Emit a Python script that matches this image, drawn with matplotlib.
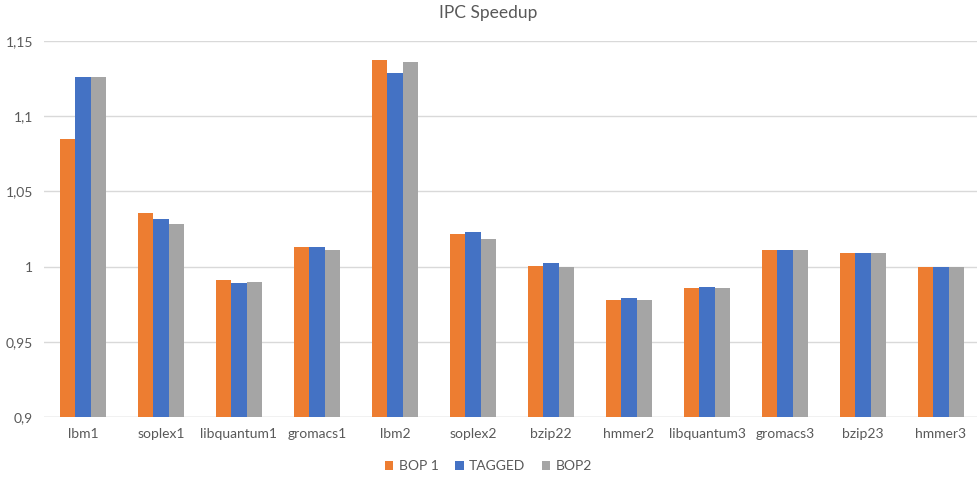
import matplotlib
matplotlib.use("Agg")
import matplotlib.pyplot as plt
import numpy as np
from matplotlib.ticker import FixedLocator

plt.rcParams['font.family'] = ['Lato', 'DejaVu Sans']

categories = ["lbm1", "soplex1", "libquantum1", "gromacs1", "lbm2", "soplex2",
              "bzip22", "hmmer2", "libquantum3", "gromacs3", "bzip23", "hmmer3"]
bop1 = [1.0847, 1.0356, 0.9911, 1.0132, 1.1369, 1.0219, 1.0004, 0.9780, 0.9856, 1.0110, 1.0090, 0.9996]
tagged = [1.1260, 1.0314, 0.9889, 1.0132, 1.1283, 1.0230, 1.0026, 0.9792, 0.9867, 1.0110, 1.0090, 0.9996]
bop2 = [1.1260, 1.0283, 0.9898, 1.0110, 1.1358, 1.0186, 0.9998, 0.9780, 0.9856, 1.0110, 1.0090, 0.9996]
series_names = ["BOP 1", "TAGGED", "BOP2"]
colors = ["#ED7D31", "#4472C4", "#A5A5A5"]
yticks = [0.9, 0.95, 1.0, 1.05, 1.1, 1.15]
ytick_labels = ["0,9", "0,95", "1", "1,05", "1,1", "1,15"]

fig = plt.figure(figsize=(9.77, 4.8), dpi=100)
ax = fig.add_axes([44/977, 62.7/480, 936/977, (417.3-40.7)/480])

x = np.arange(len(categories))
w = 0.197
for i, (vals, name, c) in enumerate(zip([bop1, tagged, bop2], series_names, colors)):
    ax.bar(x + (i-1)*w, vals, width=w, color=c, label=name, zorder=3,
           edgecolor='none')

ax.set_xlim(-0.5, len(categories)-0.5)
ax.set_ylim(0.9, 1.15)
ax.yaxis.set_major_locator(FixedLocator(yticks))
ax.set_yticklabels(ytick_labels)
ax.set_xticks(x)
ax.set_xticklabels(categories)
ax.tick_params(axis='both', length=0, labelsize=10, colors='#595959')
ax.tick_params(axis='x', pad=8)
ax.tick_params(axis='y', pad=8)
ax.grid(axis='y', color='#D9D9D9', linewidth=1, zorder=0)
ax.set_axisbelow(True)
for s in ax.spines.values():
    s.set_visible(False)
ax.axhline(0.9, color='#D9D9D9', linewidth=1, zorder=1)

fig.text(0.5, 1 - 13/480, "IPC Speedup", ha='center', va='center', fontsize=12.5, color='#595959')
leg = fig.legend(loc='center', bbox_to_anchor=(0.5, 1 - 466/480), ncol=3, frameon=False,
                 fontsize=10, handlelength=0.6, handleheight=0.6, handletextpad=0.4,
                 columnspacing=1.2)
for t in leg.get_texts():
    t.set_color('#595959')

fig.savefig("out.png", dpi=100)
